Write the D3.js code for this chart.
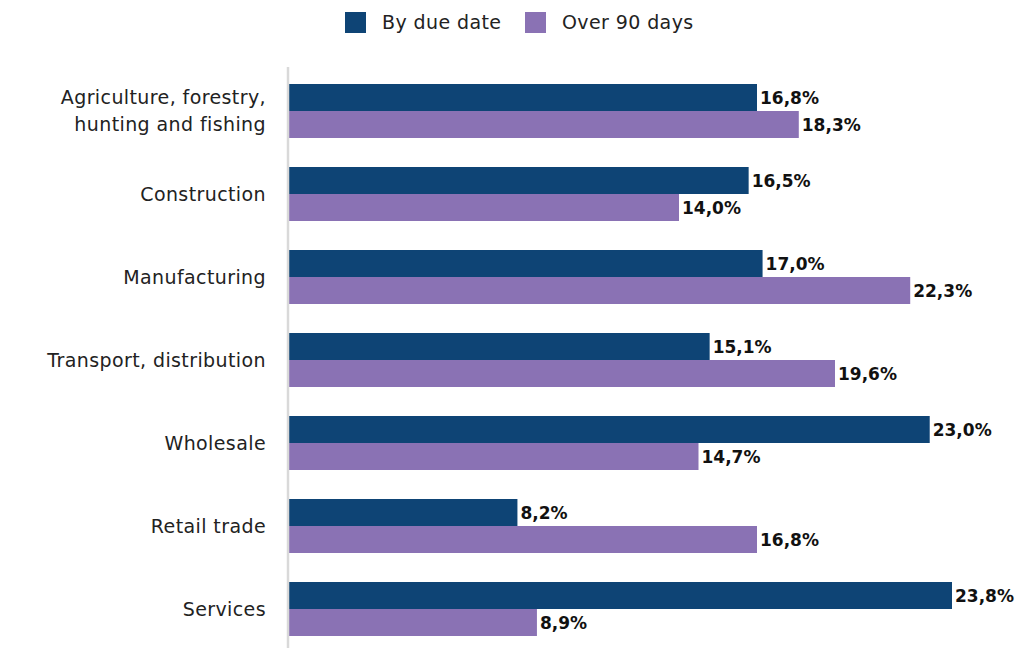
<!DOCTYPE html>
<html>
<head>
<meta charset="utf-8">
<script src="https://cdn.jsdelivr.net/npm/d3@7"></script>
<style>
  body { margin: 0; background: #fff; }
  svg { display: block; font-family: "DejaVu Sans", sans-serif; }
</style>
</head>
<body>
<div id="chart"></div>
<script>
// categories (label lines) and the two series
const categories = [
    ['Agriculture, forestry,', 'hunting and fishing'],
    ['Construction'],
    ['Manufacturing'],
    ['Transport, distribution'],
    ['Wholesale'],
    ['Retail trade'],
    ['Services']
]
const byDueDate = [16.8, 16.5, 17.0, 15.1, 23.0, 8.2, 23.8]
const over90 = [18.3, 14.0, 22.3, 19.6, 14.7, 16.8, 8.9]
const seriesNames = ['By due date', 'Over 90 days']
const colors = ['#0e4475', '#8a72b4']

const width = 1024
const height = 648
const left = 289

const svg = d3.select('#chart').append('svg')
    .attr('width', width)
    .attr('height', height)

// y bands for categories
const y = d3.scaleBand()
    .domain(d3.range(categories.length))
    .range([84, 636])
    .paddingInner(29 / 83)
    .paddingOuter(0)

const x = d3.scaleLinear()
    .domain([0, 23.8])
    .range([left, 952])

const sub = d3.scaleBand()
    .domain([0, 1])
    .range([0, y.bandwidth()])

const rows = categories.map((c, i) => ({
    label: c,
    vals: [byDueDate[i], over90[i]]
}))

const g = svg.selectAll('g.row')
    .data(rows)
    .join('g')
    .attr('class', 'row')
    .attr('transform', (d, i) => `translate(0, ${y(i)})`)

g.selectAll('rect')
    .data(d => d.vals)
    .join('rect')
    .attr('x', x(0))
    .attr('y', (d, i) => sub(i))
    .attr('width', d => x(d) - x(0))
    .attr('height', sub.bandwidth())
    .attr('fill', (d, i) => colors[i])

g.selectAll('text.val')
    .data(d => d.vals)
    .join('text')
    .attr('class', 'val')
    .attr('x', d => x(d) + 3)
    .attr('y', (d, i) => sub(i) + sub.bandwidth() / 2)
    .attr('dy', '0.36em')
    .attr('font-size', 17)
    .attr('font-weight', 'bold')
    .attr('fill', '#111')
    .text(d => d.toFixed(1).replace('.', ',') + '%')

// category labels
g.append('text')
    .attr('text-anchor', 'end')
    .attr('font-size', 19)
    .attr('letter-spacing', 0.4)
    .attr('fill', '#222')
    .each(function (d) {
        const t = d3.select(this)
        const n = d.label.length
        d.label.forEach((line, k) => {
            t.append('tspan')
                .attr('x', 266)
                .attr('y', y.bandwidth() / 2 + (k - (n - 1) / 2) * 27)
                .attr('dy', '0.35em')
                .text(line)
        })
    })

// axis line
svg.append('line')
    .attr('x1', 288).attr('x2', 288)
    .attr('y1', 67).attr('y2', height)
    .attr('stroke', '#d9d9d9')
    .attr('stroke-width', 2.5)

// legend
const legendX = [345, 525]
const lg = svg.selectAll('g.legend')
    .data(seriesNames)
    .join('g')
    .attr('class', 'legend')
    .attr('transform', (d, i) => `translate(${legendX[i]}, 12)`)
lg.append('rect')
    .attr('width', 21).attr('height', 21)
    .attr('fill', (d, i) => colors[i])
lg.append('text')
    .attr('x', 37)
    .attr('y', 10.5)
    .attr('dy', '0.35em')
    .attr('font-size', 19)
    .attr('letter-spacing', 0.4)
    .attr('fill', '#222')
    .text(d => d)
</script>
</body>
</html>
